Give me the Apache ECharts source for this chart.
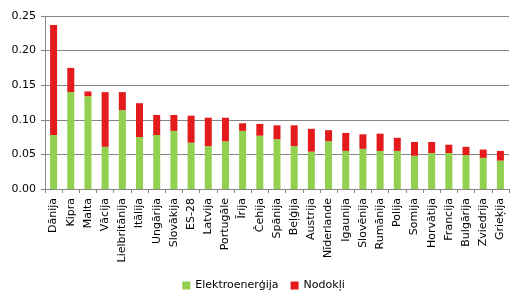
<!DOCTYPE html>
<html>
<head>
<meta charset="utf-8">
<script src="https://cdn.jsdelivr.net/npm/echarts@6/dist/echarts.min.js"></script>
<style>
  html, body { margin: 0; padding: 0; background: #fff; }
  #chart { width: 527px; height: 303px; }
</style>
</head>
<body>
<div id="chart"></div>
<script>
var countries = ['Dānija', 'Kipra', 'Malta', 'Vācija', 'Lielbritānija', 'Itālija', 'Ungārija', 'Slovākija', 'ES-28',
  'Latvija', 'Portugāle', 'Īrija', 'Čehija', 'Spānija', 'Beļģija', 'Austrija', 'Nīderlande', 'Igaunija',
  'Slovēnija', 'Rumānija', 'Polija', 'Somija', 'Horvātija', 'Francija', 'Bulgārija', 'Zviedrija', 'Grieķija'];
var elektro = [0.078, 0.140, 0.134, 0.061, 0.114, 0.075, 0.078, 0.084, 0.067,
  0.062, 0.069, 0.084, 0.077, 0.072, 0.062, 0.054, 0.069, 0.055,
  0.058, 0.055, 0.055, 0.048, 0.052, 0.052, 0.049, 0.045, 0.041];
var nodokli = [0.159, 0.035, 0.007, 0.079, 0.026, 0.049, 0.029, 0.023, 0.039,
  0.041, 0.034, 0.011, 0.017, 0.020, 0.030, 0.033, 0.016, 0.026,
  0.021, 0.025, 0.019, 0.020, 0.016, 0.012, 0.012, 0.012, 0.014];

var font = 'DejaVu Sans';
var gray = '#868686';

var myChart = echarts.init(document.getElementById('chart'));
var option = {
    animation: false,
    textStyle: { fontFamily: font },
    grid: { left: 45, right: 18, top: 16, bottom: 114, containLabel: false },
    legend: {
        top: 275,
        left: 'center',
        itemWidth: 8,
        itemHeight: 8,
        itemGap: 12,
        icon: 'rect',
        textStyle: { fontFamily: font, fontSize: 11, color: '#000' },
        data: ['Elektroenerģija', 'Nodokļi']
    },
    xAxis: {
        type: 'category',
        data: countries,
        axisLine: { lineStyle: { color: gray } },
        axisTick: { show: true, length: 4, lineStyle: { color: gray } },
        axisLabel: { rotate: 90, interval: 0, fontFamily: font, fontSize: 11, color: '#000', margin: 9 }
    },
    yAxis: {
        type: 'value',
        min: 0,
        max: 0.25,
        interval: 0.05,
        axisLine: { show: true, lineStyle: { color: gray } },
        axisTick: { show: true, length: 4, lineStyle: { color: gray } },
        axisLabel: {
            fontFamily: font, fontSize: 11, color: '#000', margin: 9,
            formatter: function (v) { return v.toFixed(2); }
        },
        splitLine: { lineStyle: { color: gray, width: 1 } }
    },
    series: [
        {
            name: 'Elektroenerģija',
            type: 'bar',
            stack: 'total',
            barWidth: 7,
            itemStyle: { color: '#92d050' },
            data: elektro
        },
        {
            name: 'Nodokļi',
            type: 'bar',
            stack: 'total',
            barWidth: 7,
            itemStyle: { color: '#e31b1d' },
            data: nodokli
        }
    ]
};
myChart.setOption(option);
</script>
</body>
</html>
